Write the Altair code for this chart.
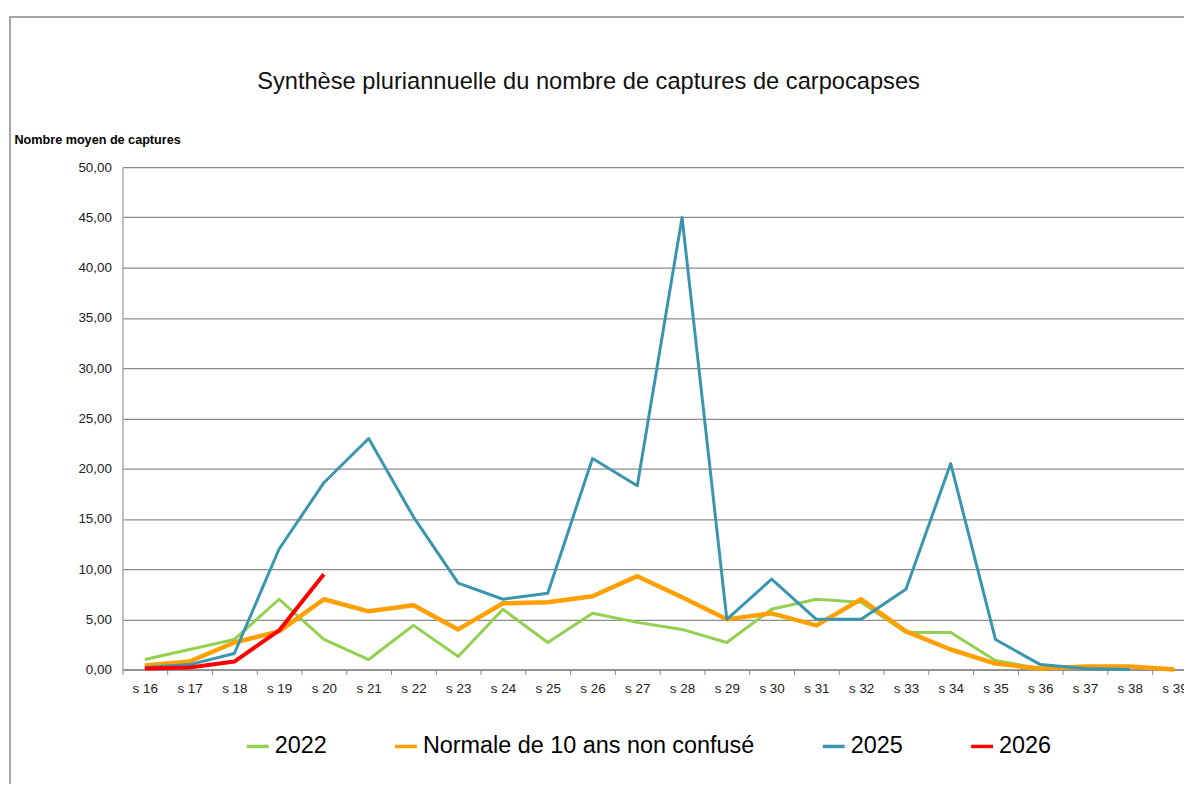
import altair as alt
import pandas as pd

weeks = ["s 16", "s 17", "s 18", "s 19", "s 20", "s 21", "s 22", "s 23", "s 24", "s 25",
         "s 26", "s 27", "s 28", "s 29", "s 30", "s 31", "s 32", "s 33", "s 34", "s 35",
         "s 36", "s 37", "s 38", "s 39"]

series_names = ["2022", "Normale de 10 ans non confusé", "2025", "2026"]
series_colors = ["#92D050", "#FFA000", "#3A95AE", "#FF0000"]
series_widths = [3, 4.5, 3, 4]

values_2022 = [1.0, 2.0, 3.0, 7.0, 3.0, 1.0, 4.4, 1.3, 6.0, 2.7, 5.6, 4.7, 4.0, 2.7,
               6.0, 7.0, 6.7, 3.7, 3.7, 0.9, 0.1]
values_normale = [0.4, 0.8, 2.7, 3.8, 7.0, 5.8, 6.4, 4.0, 6.6, 6.7, 7.3, 9.3, 7.2, 5.0,
                  5.6, 4.4, 7.0, 3.8, 2.0, 0.6, 0.1, 0.3, 0.3, 0.0]
values_2025 = [0.2, 0.5, 1.6, 12.0, 18.6, 23.0, 15.2, 8.6, 7.0, 7.6, 21.0, 18.3, 45.0, 5.0,
               9.0, 5.0, 5.0, 8.0, 20.5, 3.0, 0.5, 0.1, 0.0]
values_2026 = [0.1, 0.2, 0.8, 3.9, 9.5]

y_ticks = [0, 5, 10, 15, 20, 25, 30, 35, 40, 45, 50]

title_text = "Synthèse pluriannuelle du nombre de captures de carpocapses"
y_title = "Nombre moyen de captures"

rows = []
for name, vals in zip(series_names, [values_2022, values_normale, values_2025, values_2026]):
    for w, v in zip(weeks, vals):
        rows.append({"semaine": w, "valeur": v, "serie": name})
df = pd.DataFrame(rows)

FONT = "Liberation Sans"

x_enc = alt.X("semaine:O", sort=weeks, bandPosition=0.5,
              scale=alt.Scale(type="band", domain=weeks, range=[0, 1080],
                              paddingInner=0, paddingOuter=0),
              axis=alt.Axis(title=None, tickBand="extent", labelAngle=0, labelFontSize=13.5,
                            labelColor="#222", labelFont=FONT, tickSize=5, tickColor="#888",
                            domainColor="#888", domainWidth=1.5, labelPadding=7, grid=False))
y_enc = alt.Y("valeur:Q", scale=alt.Scale(domain=[0, 50], nice=False),
              axis=alt.Axis(values=y_ticks,
                            labelExpr="replace(format(datum.value, '.2f'), '.', ',')",
                            labelFontSize=13.5, labelColor="#222", labelFont=FONT,
                            ticks=False, labelPadding=11, domainColor="#b0b0b0", domainWidth=1.5,
                            gridColor="#8c8c8c", gridWidth=1.2,
                            title=y_title, titleAngle=0, titleAlign="left", titleBaseline="middle",
                            titleX=-109, titleY=-28, titleFontSize=12.7, titleFontWeight="bold",
                            titleColor="#000", titleFont=FONT))
color_enc = alt.Color("serie:N", scale=alt.Scale(domain=series_names, range=series_colors),
                      legend=alt.Legend(title=None, orient="none", direction="horizontal",
                                        legendX=123, legendY=569, symbolType="stroke",
                                        symbolSize=484, symbolStrokeWidth=3.5, labelFontSize=23.5,
                                        labelFont=FONT, labelColor="#000", labelOffset=4,
                                        labelLimit=0, columnPadding=61, columns=4))

layers = []
for name, sw in zip(series_names, series_widths):
    layers.append(
        alt.Chart(df).transform_filter(alt.datum.serie == name)
        .mark_line(strokeJoin="round", strokeCap="butt", strokeWidth=sw)
        .encode(x=x_enc, y=y_enc, color=color_enc)
    )

frame = alt.Chart(pd.DataFrame({"f": [0]})).mark_rect(
    fill=None, stroke="#8a8a8a", strokeWidth=1.5
).encode(x=alt.value(-113), x2=alt.value(1200), y=alt.value(-151), y2=alt.value(660))

title = alt.Chart(pd.DataFrame({"t": [title_text]})).mark_text(
    font=FONT, fontSize=23.8, color="#111", align="center", baseline="middle"
).encode(text="t:N", x=alt.value(468.5), y=alt.value(-86))

chart = alt.layer(frame, title, *layers).properties(
    width=1067, height=505,
    autosize=alt.AutoSizeParams(type="none"),
    padding={"left": 115, "top": 158, "right": 0, "bottom": 113},
).configure_view(stroke=None).configure(background="white")

chart.save("out.html", embed_options={"renderer": "svg", "actions": False})
